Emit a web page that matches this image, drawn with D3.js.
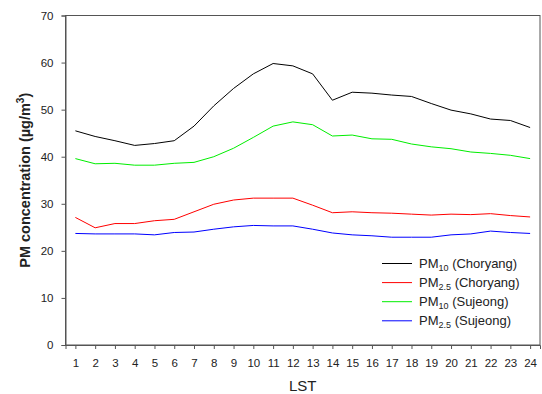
<!DOCTYPE html>
<html>
<head>
<meta charset="utf-8">
<script src="https://cdn.jsdelivr.net/npm/d3@7"></script>
<style>
  html, body { margin: 0; padding: 0; background: #fff; }
  svg text { font-family: Arial, "Liberation Sans", sans-serif; fill: #222; }
</style>
</head>
<body>
<svg id="chart" width="542" height="394"></svg>
<script>
// Hour of day (local standard time)
const hours = d3.range(1, 25);

// Hourly mean PM concentrations (µg/m³)
const pm10Choryang = [45.5, 44.3, 43.4, 42.4, 42.8, 43.4, 46.5, 50.8, 54.5, 57.6, 59.8, 59.3,
                      57.6, 52.0, 53.7, 53.5, 53.1, 52.8, 51.3, 49.9, 49.1, 48.0, 47.7, 46.2];
const pm25Choryang = [27.1, 24.9, 25.8, 25.8, 26.4, 26.7, 28.3, 29.9, 30.8, 31.2, 31.2, 31.2,
                      29.7, 28.1, 28.3, 28.1, 28.0, 27.8, 27.6, 27.8, 27.7, 27.9, 27.5, 27.2];
const pm10Sujeong  = [39.6, 38.5, 38.6, 38.2, 38.2, 38.6, 38.8, 40.0, 41.8, 44.1, 46.5, 47.4,
                      46.8, 44.4, 44.6, 43.8, 43.7, 42.7, 42.1, 41.7, 41.0, 40.7, 40.3, 39.6];
const pm25Sujeong  = [23.7, 23.6, 23.6, 23.6, 23.4, 23.9, 24.0, 24.6, 25.1, 25.4, 25.3, 25.3,
                      24.6, 23.8, 23.4, 23.2, 22.9, 22.9, 22.9, 23.4, 23.6, 24.2, 23.9, 23.7];

const yTicks = [0, 10, 20, 30, 40, 50, 60, 70];

const seriesNames = [
  { base: "PM", sub: "10",  site: "(Choryang)" },
  { base: "PM", sub: "2.5", site: "(Choryang)" },
  { base: "PM", sub: "10",  site: "(Sujeong)" },
  { base: "PM", sub: "2.5", site: "(Sujeong)" }
];
const seriesValues = [pm10Choryang, pm25Choryang, pm10Sujeong, pm25Sujeong];
const seriesColors = ["#000000", "#ff0000", "#00ee00", "#0000ff"];

const svg = d3.select("#chart");
const plot = { left: 65.5, right: 540, top: 15.5, bottom: 345 };

const x = d3.scaleLinear().domain([0.5, 24.5]).range([plot.left, plot.right]);
const y = d3.scaleLinear().domain([0, 70]).range([plot.bottom, plot.top]);

const axisColor = "#555";

// Plot frame
svg.append("rect")
  .attr("x", plot.left).attr("y", plot.top)
  .attr("width", plot.right - plot.left).attr("height", plot.bottom - plot.top)
  .attr("fill", "none").attr("stroke", axisColor).attr("stroke-width", 1);

// Y axis
const yAxis = svg.append("g")
  .attr("transform", `translate(${plot.left},0)`)
  .call(d3.axisLeft(y).tickValues(yTicks).tickSize(4).tickPadding(8));
yAxis.select(".domain").attr("stroke", axisColor);
yAxis.selectAll(".tick line").attr("stroke", axisColor);
yAxis.selectAll(".tick text").attr("font-size", 11.5).style("fill", "#222");

// X axis
const xAxis = svg.append("g")
  .attr("transform", `translate(0,${plot.bottom})`)
  .call(d3.axisBottom(x).tickValues(hours).tickSize(4).tickPadding(10).tickFormat(d3.format("d")));
xAxis.select(".domain").attr("stroke", axisColor);
xAxis.selectAll(".tick line").attr("stroke", axisColor);
xAxis.selectAll(".tick text").attr("font-size", 11.5).style("fill", "#222");

// Axis titles
svg.append("text")
  .attr("x", (plot.left + plot.right) / 2)
  .attr("y", 391)
  .attr("text-anchor", "middle")
  .attr("font-size", 15)
  .text("LST");

const yTitle = svg.append("text")
  .attr("transform", `translate(30,${(plot.top + plot.bottom) / 2}) rotate(-90)`)
  .attr("text-anchor", "middle")
  .attr("font-size", 14.5)
  .attr("font-weight", "bold");
yTitle.append("tspan").text("PM concentration (\u00b5g/m");
yTitle.append("tspan").attr("font-size", 10).attr("dy", -6).text("3");
yTitle.append("tspan").attr("dy", 6).text(")");

// Lines
const line = d3.line()
  .x((d, i) => x(hours[i]))
  .y(d => y(d));

svg.append("g").selectAll("path")
  .data(seriesValues)
  .join("path")
  .attr("d", line)
  .attr("fill", "none")
  .attr("stroke", (d, i) => seriesColors[i])
  .attr("stroke-width", 1);

// Legend
const legend = svg.append("g").attr("transform", "translate(382,263.5)");
const rows = legend.selectAll("g")
  .data(seriesNames)
  .join("g")
  .attr("transform", (d, i) => `translate(0,${i * 19.1})`);
rows.append("line")
  .attr("x1", 0).attr("x2", 30).attr("y1", 0).attr("y2", 0)
  .attr("stroke", (d, i) => seriesColors[i])
  .attr("stroke-width", 1);
const labels = rows.append("text")
  .attr("x", 37).attr("y", 4)
  .attr("font-size", 13);
labels.append("tspan").text(d => d.base);
labels.append("tspan").attr("font-size", 9).attr("dy", 3).text(d => d.sub);
labels.append("tspan").attr("dy", -3).text(d => " " + d.site);
</script>
</body>
</html>
